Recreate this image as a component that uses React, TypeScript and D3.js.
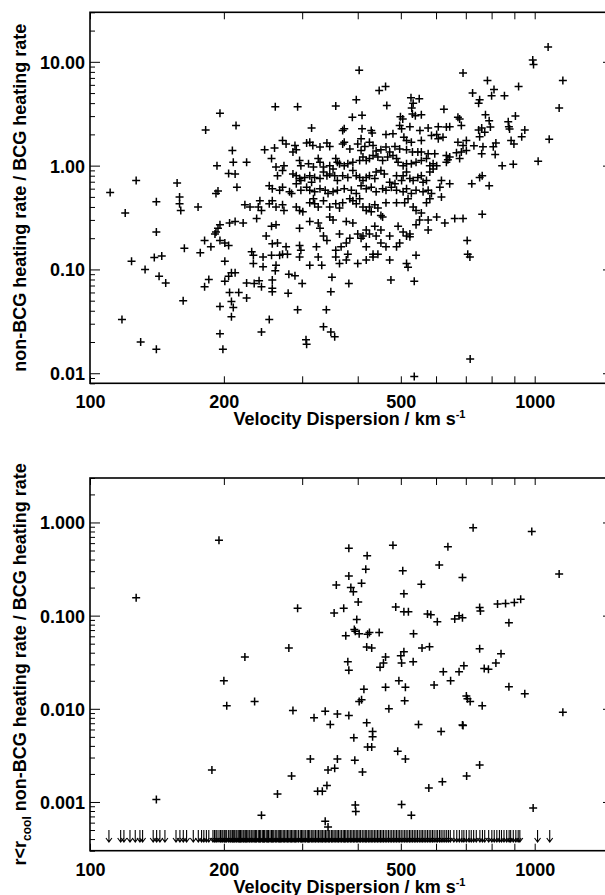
import React, { useEffect, useRef } from 'react';
import * as d3 from 'd3';

// x axis (velocity dispersion, km/s)
const xTickValues = [100, 200, 300, 400, 500, 600, 700, 800, 900, 1000];
const xTickLabels = [100, 200, 500, 1000];

// y axis labels
const topYValues = [0.01, 0.1, 1, 10];
const topYLabels = ['0.01', '0.10', '1.00', '10.00'];
const bottomYValues = [0.001, 0.01, 0.1, 1];
const bottomYLabels = ['0.001', '0.010', '0.100', '1.000'];

// top panel: [velocity, non-BCG / BCG heating rate]
const topPoints = [
  [531, 3.15], [556, 3.1], [539, 3.03], [389, 2.93], [409, 3.05], [499, 2.96], [505, 2.81], [672, 2.93], [678, 2.81],
  [213, 2.43], [315, 2.31], [373, 2.26], [370, 2.18], [409, 2.26], [429, 2.18], [431, 2.06], [497, 2.43], [502, 2.26],
  [524, 2.37], [552, 2.18], [576, 2.31], [607, 2.37], [633, 2.35], [644, 2.37], [684, 2.43], [463, 2.0], [480, 2.03],
  [508, 1.88], [515, 1.75], [528, 1.68], [556, 1.75], [586, 1.95], [602, 2.0], [607, 1.82], [622, 1.88], [672, 1.68],
  [690, 1.56], [702, 1.75], [271, 1.75], [276, 1.62], [289, 1.56], [291, 1.42], [307, 1.65], [312, 1.68], [317, 1.56],
  [329, 1.51], [341, 1.65], [346, 1.53], [247, 1.42], [260, 1.48], [286, 1.35], [370, 1.62], [373, 1.68], [384, 1.45],
  [400, 1.62], [407, 1.82], [407, 1.4], [415, 1.53], [425, 1.68], [433, 1.56], [440, 1.38], [451, 1.42], [463, 1.51],
  [472, 1.35], [485, 1.53], [497, 1.45], [515, 1.42], [531, 1.35], [546, 1.35], [556, 1.35], [576, 1.3], [596, 1.3],
  [633, 1.25], [644, 1.21], [667, 1.33], [678, 1.17], [684, 1.35], [702, 1.4], [209, 1.4], [210, 1.08], [212, 0.83],
  [214, 0.62], [225, 1.08], [256, 1.17], [262, 0.97], [264, 0.8], [271, 0.9], [273, 1.0], [296, 1.12], [298, 1.0],
  [310, 1.04], [318, 0.97], [326, 1.17], [329, 1.08], [335, 0.97], [346, 1.0], [352, 0.93], [357, 1.17], [360, 1.08],
  [364, 1.04], [373, 1.0], [380, 1.04], [390, 1.08], [404, 1.12], [411, 1.21], [418, 1.12], [425, 1.17], [433, 1.25],
  [444, 1.21], [455, 1.12], [467, 1.21], [480, 1.25], [489, 1.17], [493, 1.08], [506, 1.0], [515, 1.04], [528, 1.04],
  [541, 1.08], [556, 1.12], [571, 1.17], [581, 1.0], [591, 1.04], [602, 1.0], [633, 1.08], [638, 1.14],
  [286, 0.83], [291, 0.8], [296, 0.75], [298, 0.72], [304, 0.77], [312, 0.8], [315, 0.69], [320, 0.77], [329, 0.75],
  [335, 0.87], [341, 0.8], [346, 0.83], [355, 0.8], [360, 0.72], [370, 0.8], [380, 0.77], [390, 0.9], [397, 0.8],
  [404, 0.77], [411, 0.72], [418, 0.77], [425, 0.8], [437, 0.75], [440, 0.87], [451, 0.9], [459, 0.83], [472, 0.69],
  [485, 0.67], [489, 0.8], [502, 0.72], [506, 0.8], [515, 0.87], [524, 0.75], [533, 0.72], [546, 0.77], [556, 0.8],
  [561, 0.69], [571, 0.72], [581, 0.87], [591, 0.93], [617, 0.72], [644, 0.67],
  [253, 0.64], [257, 0.6], [267, 0.58], [271, 0.62], [281, 0.56], [284, 0.54], [291, 0.67], [298, 0.58], [307, 0.62],
  [312, 0.58], [320, 0.56], [329, 0.6], [338, 0.58], [343, 0.54], [352, 0.56], [360, 0.58], [373, 0.6], [387, 0.58],
  [397, 0.54], [407, 0.64], [418, 0.6], [429, 0.62], [440, 0.56], [455, 0.6], [463, 0.58], [476, 0.62], [489, 0.58],
  [506, 0.56], [515, 0.6], [528, 0.54], [541, 0.58], [561, 0.56], [576, 0.58], [586, 0.54], [612, 0.62], [617, 0.5],
  [223, 0.42], [229, 0.4], [239, 0.4], [241, 0.46], [243, 0.37], [253, 0.43], [257, 0.46], [262, 0.4], [271, 0.42],
  [273, 0.37], [291, 0.4], [296, 0.37], [301, 0.36], [312, 0.44], [318, 0.48], [320, 0.43], [326, 0.4], [335, 0.46],
  [346, 0.4], [357, 0.43], [364, 0.39], [370, 0.44], [384, 0.48], [390, 0.46], [397, 0.43], [404, 0.48], [411, 0.4],
  [418, 0.37], [425, 0.4], [429, 0.36], [437, 0.42], [444, 0.39], [451, 0.33], [455, 0.32], [463, 0.44], [489, 0.44],
  [510, 0.44], [519, 0.48], [533, 0.4], [541, 0.37], [556, 0.35], [571, 0.44], [581, 0.48], [602, 0.32], [628, 0.28],
  [661, 0.31], [690, 0.31],
  [206, 0.28], [212, 0.29], [221, 0.28], [237, 0.31], [256, 0.26], [262, 0.27], [296, 0.25], [312, 0.29], [326, 0.28],
  [329, 0.25], [335, 0.21], [346, 0.32], [352, 0.3], [364, 0.22], [377, 0.29], [390, 0.28], [400, 0.22], [411, 0.21],
  [418, 0.24], [425, 0.22], [437, 0.26], [440, 0.21], [451, 0.24], [472, 0.21], [493, 0.26], [506, 0.23], [524, 0.22],
  [541, 0.27], [551, 0.3], [576, 0.3], [576, 0.24],
  [249, 0.21], [257, 0.177], [264, 0.18], [276, 0.165], [296, 0.17], [298, 0.153], [323, 0.165], [341, 0.19],
  [357, 0.153], [367, 0.165], [377, 0.18], [380, 0.14], [384, 0.2], [407, 0.2], [418, 0.165], [433, 0.132],
  [444, 0.14], [451, 0.18], [463, 0.165], [489, 0.165], [497, 0.18], [515, 0.21], [524, 0.206],
  [231, 0.148], [233, 0.137], [245, 0.132], [256, 0.137], [267, 0.137], [271, 0.14], [233, 0.114], [245, 0.106],
  [262, 0.11], [278, 0.14], [296, 0.132], [312, 0.11], [326, 0.132], [332, 0.11], [357, 0.132], [364, 0.114],
  [377, 0.123], [400, 0.114], [418, 0.123], [433, 0.14], [472, 0.123], [515, 0.114], [519, 0.105], [541, 0.137],
  [715, 0.132],
  // outer points
  [1072, 13.9], [990, 10.4], [994, 9.4], [1157, 6.6], [403, 8.3], [690, 7.8], [462, 5.8], [447, 5.3], [783, 6.6],
  [920, 5.8], [810, 5.4], [725, 5.0], [800, 4.7], [855, 4.7], [527, 4.5], [550, 4.4], [397, 4.3], [752, 4.3],
  [748, 4.0], [1135, 3.6], [465, 3.8], [533, 4.0], [529, 3.6], [261, 3.7], [293, 3.7], [357, 3.75], [196, 3.2],
  [625, 3.5], [905, 3.0], [775, 3.1], [872, 2.65], [875, 2.37], [878, 2.25], [790, 2.7], [795, 2.35], [950, 2.2],
  [182, 2.2], [760, 2.3], [748, 2.2], [772, 2.1], [752, 1.9], [1078, 1.8], [935, 1.9], [818, 1.65], [807, 1.52],
  [815, 1.28], [885, 1.75], [898, 1.62], [765, 1.52], [730, 1.55], [760, 1.3], [845, 1.0], [895, 1.03], [1018, 1.1],
  [762, 0.8], [752, 0.77], [722, 0.67], [790, 0.64], [762, 0.34], [705, 0.19], [707, 0.14], [716, 0.0137],
  [536, 0.0093], [475, 0.079], [536, 0.077],
  [111, 0.55], [120, 0.35], [127, 0.72], [141, 0.45], [141, 0.23], [124, 0.12], [133, 0.1], [139.5, 0.13],
  [145, 0.135], [143, 0.086], [148, 0.074], [118, 0.033], [130, 0.02], [141, 0.017], [157, 0.68], [159, 0.5],
  [159, 0.43], [160, 0.37], [175, 0.4], [162, 0.05], [163, 0.16], [177, 0.145], [181, 0.19], [187, 0.165],
  [185, 0.08], [181, 0.068], [192, 0.23], [191, 0.22], [194, 0.25], [196, 0.27], [192, 0.54], [194, 0.57],
  [193, 1.0], [205, 0.84], [196, 0.19], [201, 0.18], [205, 0.17], [201, 0.12], [205, 0.086], [201, 0.077],
  [206, 0.06], [208, 0.049], [210, 0.043], [208, 0.035], [196, 0.044], [196, 0.024], [199, 0.017],
  [208, 0.093], [212, 0.093], [216, 0.06], [225, 0.053], [225, 0.074], [234, 0.073], [240, 0.078], [243, 0.068],
  [243, 0.025], [253, 0.033], [257, 0.079], [257, 0.066], [257, 0.061], [261, 0.097], [280, 0.09], [289, 0.087],
  [300, 0.073], [279, 0.059], [293, 0.041], [306, 0.021], [307, 0.019], [335, 0.028], [340, 0.041], [348, 0.025],
  [355, 0.0225], [348, 0.061], [350, 0.084], [382, 0.073],
];

// bottom panel (r < r_cool): detections
const bottomPoints = [
  [127, 0.156], [195, 0.645], [141, 0.00106], [188, 0.0022], [200, 0.02], [203, 0.0108], [223, 0.036],
  [234.5, 0.012], [243, 0.00072], [264, 0.00122], [280, 0.045], [284, 0.0019], [286, 0.0096], [293, 0.12],
  [313, 0.0029], [319, 0.008], [325, 0.0013], [333, 0.0013], [338, 0.0094], [341, 0.0015], [338, 0.00062],
  [343, 0.00054], [347, 0.0068], [343, 0.0022], [355, 0.0023], [360, 0.0029], [360, 0.0088], [358, 0.213],
  [354, 0.107], [372, 0.12], [376, 0.061], [380, 0.032], [382, 0.026], [382, 0.267], [382, 0.53], [386, 0.2],
  [391, 0.18], [382, 0.0085], [392, 0.0049], [393, 0.071], [395, 0.068], [398, 0.091], [401, 0.14], [403, 0.064],
  [394, 0.0028], [395, 0.00093], [396, 0.00079], [403, 0.012], [408, 0.223], [408, 0.0125], [410, 0.0021],
  [413, 0.0162], [417, 0.315], [420, 0.438], [419, 0.046], [421, 0.063], [425, 0.066], [419, 0.0071],
  [421, 0.0039], [430, 0.0039], [430, 0.045], [432, 0.0057], [432, 0.005], [447, 0.066], [449, 0.028],
  [457, 0.031], [462, 0.036], [462, 0.017], [470, 0.01], [480, 0.57], [487, 0.124], [492, 0.0035], [495, 0.02],
  [500, 0.037], [502, 0.031], [502, 0.00094], [505, 0.303], [508, 0.041], [508, 0.11], [508, 0.172],
  [510, 0.0122], [512, 0.017], [512, 0.0029], [520, 0.11], [528, 0.00072], [534, 0.064], [533, 0.032],
  [548, 0.0068], [556, 0.217], [558, 0.045], [574, 0.104], [578, 0.00141], [580, 0.0463], [584, 0.102],
  [594, 0.018], [604, 0.086], [610, 0.35], [616, 0.0057], [620, 0.00165], [623, 0.025], [638, 0.55], [647, 0.02],
  [661, 0.092], [676, 0.025], [676, 0.1], [688, 0.256], [688, 0.095], [688, 0.0067], [690, 0.0066], [693, 0.029],
  [702, 0.0137], [706, 0.0128], [716, 0.012], [703, 0.0019], [727, 0.88], [752, 0.122], [755, 0.112],
  [752, 0.044], [752, 0.0025], [762, 0.0108], [770, 0.027], [787, 0.0265], [825, 0.133], [818, 0.031],
  [840, 0.039], [860, 0.135], [875, 0.084], [875, 0.0172], [900, 0.138], [930, 0.15], [950, 0.0145], [985, 0.8],
  [992, 0.00086], [1135, 0.279], [1157, 0.0092],
];

// bottom panel: upper limits (velocity of each arrow)
const limitVelocities = [
  110.3, 117.2, 119.2, 123, 126.4, 129.5, 131.3, 138.7, 141.2, 143.6, 147.4, 156.1, 159.3, 162.1, 164.9, 170.7,
  175.2, 178.2, 180.3, 182.7, 185,
  189, 190.5, 192, 193, 195, 196.5, 198, 199, 200.5, 202, 203, 205, 206.5, 207.5, 209, 210, 211.5, 213, 214, 215.5,
  217, 218, 219.5, 221, 222, 223.5, 225, 226.5, 228, 229, 231, 232.5, 234, 235.5, 237, 239, 240.5, 242, 244, 245.5,
  247, 249, 250.5, 252, 254, 256, 257.5, 259, 261, 263, 265, 266.5, 268, 270, 272, 274, 276, 278, 280, 282, 284,
  286, 288, 290, 292, 294.5, 297, 299, 301, 303, 305.5, 308, 310, 312, 314.5, 317, 319, 321.5, 324, 326.5, 329,
  331, 333.5, 336, 338.5, 341, 343.5, 346, 349, 351.5, 354, 357, 359.5, 362, 365, 368, 371, 373.5, 376, 379, 382,
  385, 388, 391, 394, 397, 400, 403, 406, 409.5, 413, 416, 419, 422.5, 426, 429, 432.5, 436, 439.5, 443, 446.5,
  450, 453.5, 457, 461, 465, 469, 473, 477, 481, 485, 489, 493, 497, 501, 505.5, 510, 514, 518.5, 523, 527,
  531.5, 536, 540.5, 545, 550, 555, 559, 564, 569, 574, 579, 584, 589, 594, 600, 605, 611, 616, 622, 628, 634,
  640, 646,
  658, 668, 677, 686, 693, 702, 712, 720, 729, 739, 753, 763, 772, 788, 801, 811, 822, 833, 842, 853, 865, 876,
  883, 895, 907, 918, 926, 1015, 1081,
];
const LIMIT_RATIO = 0.0005;

const FONT = '"Liberation Sans", Arial, Helvetica, sans-serif';

const drawPanel = (svg, opts) => {
  const { top, bottom, yDomain, yValues, yLabels, points, limits, titleLines } = opts;
  const left = 90;
  const right = 613;

  const x = d3.scaleLog().domain([100, 1500]).range([left, right]);
  const y = d3.scaleLog().domain(yDomain).range([bottom, top]);

  // minor y ticks (2..9 x each decade)
  const minor = [];
  for (let e = -5; e <= 2; e++) {
    for (let k = 2; k <= 9; k++) {
      const v = k * Math.pow(10, e);
      if (v >= yDomain[0] && v <= yDomain[1]) minor.push(v);
    }
  }

  const g = svg.append('g');

  const styleAxis = (sel) => {
    sel.select('.domain').remove();
    sel.selectAll('line').attr('stroke', '#000').attr('stroke-width', 1);
    sel.attr('font-family', FONT).attr('font-size', 18).attr('font-weight', 'bold');
    sel.selectAll('text').attr('fill', '#000');
  };

  // bottom x axis with labels
  g.append('g')
    .attr('transform', `translate(0,${bottom})`)
    .call(d3.axisBottom(x).tickValues(xTickValues).tickSizeInner(-7).tickSizeOuter(0)
      .tickFormat(d => (xTickLabels.includes(d) ? String(d) : '')))
    .call(styleAxis)
    .call(s => s.selectAll('text').attr('y', 25).attr('dy', null));

  // top x axis
  g.append('g')
    .attr('transform', `translate(0,${top})`)
    .call(d3.axisTop(x).tickValues(xTickValues).tickSizeInner(-7).tickSizeOuter(0).tickFormat(() => ''))
    .call(styleAxis);

  // left y axis
  g.append('g')
    .attr('transform', `translate(${left},0)`)
    .call(d3.axisLeft(y).tickValues(yValues).tickSizeInner(-10).tickSizeOuter(0).tickPadding(5)
      .tickFormat((d, i) => yLabels[i]))
    .call(styleAxis)
    .call(s => s.selectAll('text').attr('dy', '0.36em'));
  g.append('g')
    .attr('transform', `translate(${left},0)`)
    .call(d3.axisLeft(y).tickValues(minor).tickSizeInner(-5).tickSizeOuter(0).tickFormat(() => ''))
    .call(styleAxis);

  // right y axis
  g.append('g')
    .attr('transform', `translate(${right},0)`)
    .call(d3.axisRight(y).tickValues(yValues).tickSizeInner(-10).tickSizeOuter(0).tickFormat(() => ''))
    .call(styleAxis);
  g.append('g')
    .attr('transform', `translate(${right},0)`)
    .call(d3.axisRight(y).tickValues(minor).tickSizeInner(-5).tickSizeOuter(0).tickFormat(() => ''))
    .call(styleAxis);

  // frame
  g.append('rect')
    .attr('x', left).attr('y', top)
    .attr('width', right - left).attr('height', bottom - top)
    .attr('fill', 'none').attr('stroke', '#000').attr('stroke-width', 1.6);

  // plus markers
  g.append('g')
    .selectAll('path')
    .data(points)
    .join('path')
    .attr('d', d => `M${x(d[0]) - 4},${y(d[1])}h8M${x(d[0])},${y(d[1]) - 4}v8`)
    .attr('fill', 'none')
    .attr('stroke', '#000')
    .attr('stroke-width', 1.5);

  // upper limit arrows
  if (limits) {
    g.append('g')
      .selectAll('path')
      .data(limits)
      .join('path')
      .attr('d', d => {
        const px = x(d);
        const py = y(LIMIT_RATIO);
        return `M${px},${py}v12M${px - 3},${py + 8}L${px},${py + 12}L${px + 3},${py + 8}`;
      })
      .attr('fill', 'none')
      .attr('stroke', '#000')
      .attr('stroke-width', 1.1);
  }

  // x title
  const xt = g.append('text')
    .attr('x', (left + right) / 2 - 2)
    .attr('y', bottom + 42)
    .attr('text-anchor', 'middle')
    .attr('font-family', FONT).attr('font-size', 18).attr('font-weight', 'bold');
  xt.append('tspan').text('Velocity Dispersion / km s');
  xt.append('tspan').attr('font-size', 11).attr('dy', -7).text('-1');

  // y title
  const yt = g.append('text')
    .attr('transform', `translate(26,${(top + bottom) / 2}) rotate(-90)`)
    .attr('text-anchor', 'middle')
    .attr('font-family', FONT).attr('font-size', 18).attr('font-weight', 'bold');
  titleLines.forEach(part => {
    const t = yt.append('tspan').text(part.text);
    if (part.sub) t.attr('font-size', 12).attr('dy', 5);
    if (part.after) t.attr('dy', -5);
  });
};

const App = () => {
  const svgRef = useRef();

  useEffect(() => {
    const svg = d3.select(svgRef.current);
    svg.selectAll('*').remove();

    drawPanel(svg, {
      top: 12.3,
      bottom: 383.3,
      yDomain: [0.008, 30],
      yValues: topYValues,
      yLabels: topYLabels,
      points: topPoints,
      limits: null,
      titleLines: [{ text: 'non-BCG heating rate / BCG heating rate' }],
    });

    drawPanel(svg, {
      top: 478,
      bottom: 850.7,
      yDomain: [0.0003, 3],
      yValues: bottomYValues,
      yLabels: bottomYLabels,
      points: bottomPoints,
      limits: limitVelocities,
      titleLines: [
        { text: 'r<r' },
        { text: 'cool', sub: true },
        { text: ' non-BCG heating rate / BCG heating rate', after: true },
      ],
    });
  }, []);

  return (
    <svg
      ref={svgRef}
      width={605}
      height={895}
      style={{ position: 'absolute', left: 0, top: 0, background: '#fff' }}
    />
  );
};

export default App;
